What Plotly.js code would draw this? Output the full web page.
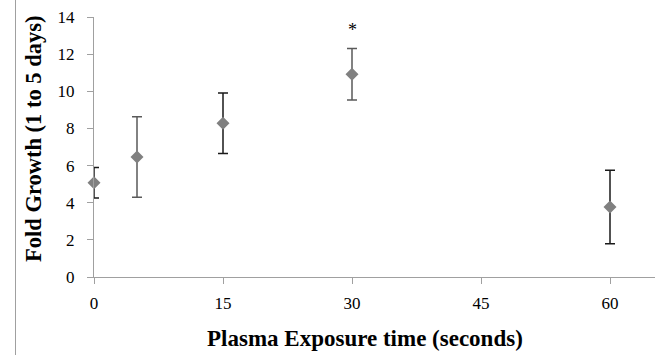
<!DOCTYPE html>
<html>
<head>
<meta charset="utf-8">
<script src="https://cdn.plot.ly/plotly-3.0.1.min.js"></script>
<style>
  html, body { margin: 0; padding: 0; background: #fff; }
  #chart { width: 664px; height: 355px; }
</style>
</head>
<body>
<div id="chart"></div>
<script>
// Data
const exposureTime = [0, 5, 15, 30, 60];               // seconds
const foldGrowth   = [5.08, 6.46, 8.28, 10.92, 3.77];   // fold growth (1 to 5 days)
const errorSize    = [0.82, 2.17, 1.63, 1.39, 1.98];    // symmetric error bars
const errorColors  = ['#1a1a1a', '#5a5a5a', '#1a1a1a', '#5a5a5a', '#1a1a1a'];
const xTicks = [0, 15, 30, 45, 60];
const yTicks = [0, 2, 4, 6, 8, 10, 12, 14];
const xTitle = 'Plasma Exposure time (seconds)';
const yTitle = 'Fold Growth (1 to 5 days)';
const sigTime = 30, sigLabel = '*', sigY = 13.28;

const W = 664, H = 355;
const M = {l: 94, r: 9, t: 17, b: 78};
const plotW = W - M.l - M.r, plotH = H - M.t - M.b;
const px2x = p => (p - M.l) / plotW;           // pixel -> paper x
const px2y = p => (H - M.b - p) / plotH;       // pixel -> paper y

const traces = exposureTime.map((t, i) => ({
  type: 'scatter',
  mode: 'markers',
  x: [t],
  y: [foldGrowth[i]],
  cliponaxis: false,
  marker: {symbol: 'diamond', size: 10, color: '#808080'},
  error_y: {type: 'data', array: [errorSize[i]], visible: true,
            color: errorColors[i], thickness: 1.5, width: 5},
  showlegend: false,
  hoverinfo: 'x+y'
}));

const serif = 'Liberation Serif';

const layout = {
  width: W, height: H,
  margin: M,
  paper_bgcolor: '#fff',
  plot_bgcolor: '#fff',
  font: {family: serif, size: 17, color: '#000'},
  showlegend: false,
  xaxis: {
    range: [0, plotW / 8.6],
    tickmode: 'array',
    tickvals: xTicks,
    ticktext: xTicks.map(String),
    ticks: 'outside', ticklen: 6, tickcolor: '#a0a0a0', tickwidth: 1,
    showline: true, linecolor: '#a0a0a0', linewidth: 1,
    showgrid: false, zeroline: false,
    ticklabelstandoff: 5,
    tickfont: {family: serif, size: 17, color: '#000'}
  },
  yaxis: {
    range: [0, 14],
    tickmode: 'array',
    tickvals: yTicks,
    ticktext: yTicks.map(String),
    ticks: 'outside', ticklen: 6, tickcolor: '#a0a0a0', tickwidth: 1,
    showline: true, linecolor: '#a0a0a0', linewidth: 1,
    showgrid: false, zeroline: false,
    ticklabelstandoff: 9,
    tickfont: {family: serif, size: 17, color: '#000'}
  },
  annotations: [
    {
      x: sigTime, y: sigY, xref: 'x', yref: 'y',
      text: sigLabel, showarrow: false,
      font: {family: serif, size: 18, color: '#000'},
      yanchor: 'middle'
    },
    {
      xref: 'paper', yref: 'paper', x: px2x(365), y: px2y(338),
      xanchor: 'center', yanchor: 'middle', showarrow: false,
      text: '<b>' + xTitle + '</b>',
      font: {family: serif, size: 23, color: '#000'}
    },
    {
      xref: 'paper', yref: 'paper', x: px2x(33), y: px2y(139),
      xanchor: 'center', yanchor: 'middle', showarrow: false, textangle: -90,
      text: '<b>' + yTitle + '</b>',
      font: {family: serif, size: 22.5, color: '#000'}
    }
  ],
  shapes: [{
    type: 'line', xref: 'paper', yref: 'paper',
    x0: px2x(15.5), x1: px2x(15.5),
    y0: px2y(H), y1: px2y(0),
    line: {color: '#a0a0a0', width: 1}
  }]
};

Plotly.newPlot('chart', traces, layout, {displayModeBar: false, staticPlot: true});
</script>
</body>
</html>
